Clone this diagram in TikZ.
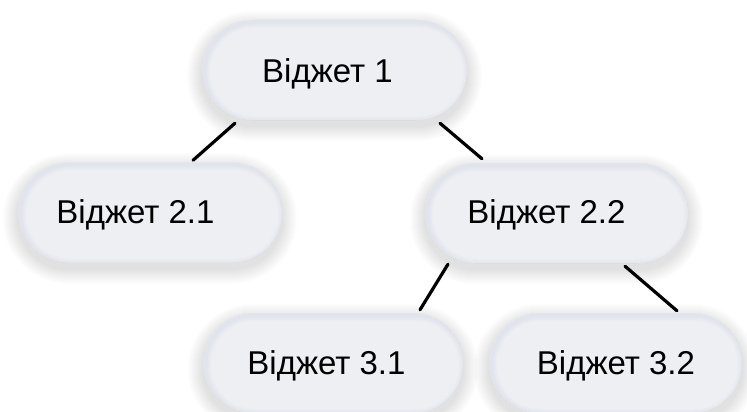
\documentclass[tikz,border=0pt]{standalone}
\usepackage{fontspec}
\setmainfont{Liberation Sans}
\usetikzlibrary{calc,backgrounds}
\definecolor{pillfill}{HTML}{EDEFF3}
\definecolor{pillrim}{HTML}{C6CBDE}
\definecolor{shadowgray}{HTML}{6E717C}
\tikzset{
  pill/.style={rectangle, rounded corners=50pt, minimum width=#1, minimum height=100pt,
    inner sep=0pt, fill=pillfill,
    path picture={
      \foreach \w in {2,4,...,12}{
        \draw[pillrim, line width=\w pt, draw opacity=0.045, rounded corners=50pt]
          ([xshift=2pt,yshift=-2pt]path picture bounding box.south west) rectangle
          ([xshift=2pt,yshift=-2pt]path picture bounding box.north east);
      }
    }},
  caption/.style={font=\fontsize{33}{38}\selectfont, anchor=base, inner sep=0pt, text=black},
  link/.style={line width=3.2pt, black, line cap=round}
}
\begin{document}
\begin{tikzpicture}[x=1pt, y=-1pt]
  \useasboundingbox (0,0) rectangle (747,412);

  % widget boxes
  \node[pill=265pt] (n1)  at (334.5,70)  {};
  \node[pill=264pt] (n21) at (150,212.5) {};
  \node[pill=263pt] (n22) at (556.5,213) {};
  \node[pill=260pt] (n31) at (333,363)   {};
  \node[pill=253pt] (n32) at (615.5,363) {};

  % soft drop shadows under the boxes
  \begin{scope}[on background layer]
    \fill[white] (0,0) rectangle (747,412);
    \foreach \n in {n1,n21,n22,n31,n32}{
      \foreach \i in {1,...,15}{
        \fill[shadowgray, opacity=0.011, rounded corners={50pt+\i pt}]
          ($(\n.north west)+(-\i,-\i+6)$) rectangle ($(\n.south east)+(\i,\i+6)$);
      }
    }
  \end{scope}

  % captions
  \node[caption] (t1)  at (327.5,82)  {Віджет 1};
  \node[caption] (t21) at (135.5,223) {Віджет 2.1};
  \node[caption] (t22) at (546.5,223) {Віджет 2.2};
  \node[caption] (t31) at (326.5,374) {Віджет 3.1};
  \node[caption] (t32) at (616,374)   {Віджет 3.2};

  % tree links
  \draw[link] ($(n1.south)+(-99.5,3)$)  -- ($(n21.north)+(43,-2)$);
  \draw[link] ($(n1.south)+(105.5,3)$)  -- ($(n22.north)+(-74.5,-4)$);
  \draw[link] ($(n22.south)+(-108.5,1)$) -- ($(n31.north)+(87,-3)$);
  \draw[link] ($(n22.south)+(68.5,3)$)  -- ($(n32.north)+(61.5,-2)$);
\end{tikzpicture}
\end{document}
